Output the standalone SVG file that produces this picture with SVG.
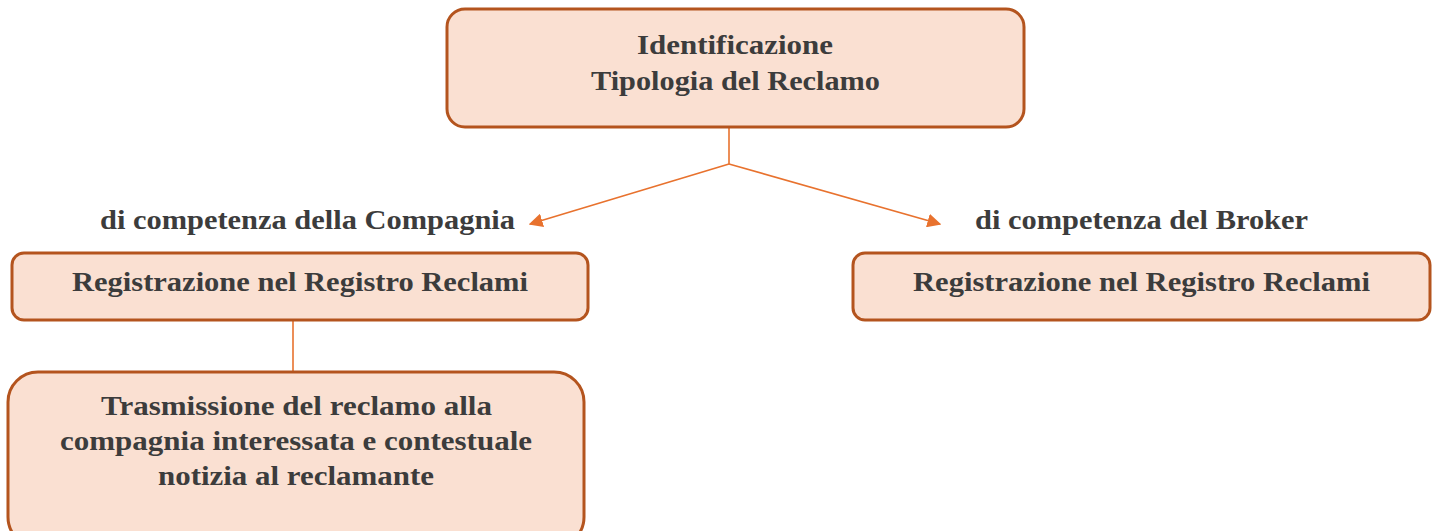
<svg xmlns="http://www.w3.org/2000/svg" width="1434" height="531" viewBox="0 0 1434 531">
<style>
.box{fill:#fae0d2;stroke:#b4541e;stroke-width:3}
.t{font-family:"Liberation Serif","Times New Roman",serif;font-weight:bold;font-size:27px;fill:#3c3c3c;text-anchor:middle}
.c{stroke:#e8722e;stroke-width:1.6;fill:none}
</style>
<defs>
<marker id="ah" viewBox="0 0 10 10" refX="9" refY="5" markerWidth="14" markerHeight="14" markerUnits="userSpaceOnUse" orient="auto">
<path d="M0,0 L10,5 L0,10 Z" fill="#e8722e"/>
</marker>
</defs>
<g id="connectors">
<path class="c" d="M729,127 V164"/>
<path class="c" d="M729,164 L530,224" marker-end="url(#ah)"/>
<path class="c" d="M729,164 L940,224" marker-end="url(#ah)"/>
<path class="c" d="M293,320 V372"/>
</g>
<g id="n-top">
<rect class="box" x="447" y="9" width="577" height="118" rx="18"/>
<text class="t" x="735" y="54" textLength="196" lengthAdjust="spacingAndGlyphs">Identificazione</text>
<text class="t" x="735.5" y="90" textLength="289" lengthAdjust="spacingAndGlyphs">Tipologia del Reclamo</text>
</g>
<g id="lbl-compagnia">
<text class="t" x="307.5" y="229" textLength="415" lengthAdjust="spacingAndGlyphs">di competenza della Compagnia</text>
</g>
<g id="lbl-broker">
<text class="t" x="1141.5" y="229" textLength="333" lengthAdjust="spacingAndGlyphs">di competenza del Broker</text>
</g>
<g id="n-reg-left">
<rect class="box" x="12" y="253" width="576" height="67" rx="12"/>
<text class="t" x="300" y="291" textLength="456" lengthAdjust="spacingAndGlyphs">Registrazione nel Registro Reclami</text>
</g>
<g id="n-reg-right">
<rect class="box" x="853" y="253" width="577" height="67" rx="12"/>
<text class="t" x="1141.5" y="291" textLength="457" lengthAdjust="spacingAndGlyphs">Registrazione nel Registro Reclami</text>
</g>
<g id="n-trasm">
<rect class="box" x="8" y="372" width="576" height="175" rx="30"/>
<text class="t" x="296.5" y="415" textLength="391" lengthAdjust="spacingAndGlyphs">Trasmissione del reclamo alla</text>
<text class="t" x="296" y="450" textLength="472" lengthAdjust="spacingAndGlyphs">compagnia interessata e contestuale</text>
<text class="t" x="296" y="485" textLength="276" lengthAdjust="spacingAndGlyphs">notizia al reclamante</text>
</g>
</svg>
